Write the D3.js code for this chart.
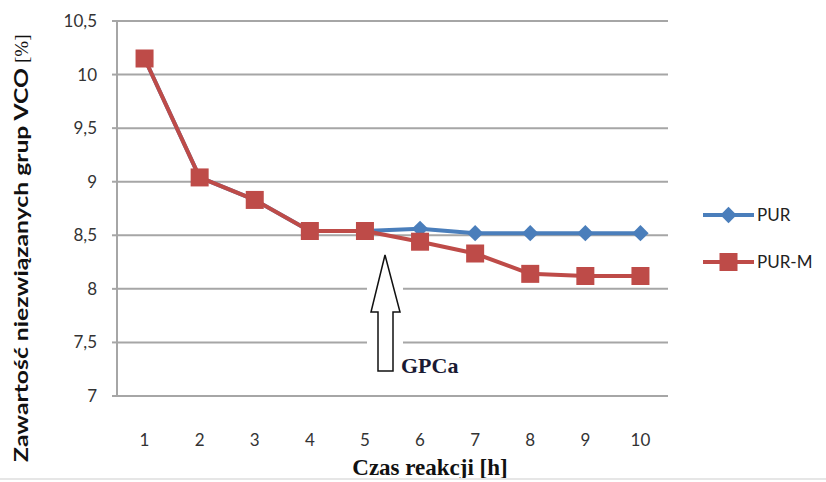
<!DOCTYPE html>
<html>
<head>
<meta charset="utf-8">
<script src="https://cdn.jsdelivr.net/npm/d3@7"></script>
<style>
  body { margin: 0; background: #fff; }
  svg { display: block; }
</style>
</head>
<body>
<svg id="chart" width="826" height="482"></svg>
<script>
const hours = [1, 2, 3, 4, 5, 6, 7, 8, 9, 10]
const pur = [10.15, 9.04, 8.83, 8.54, 8.54, 8.56, 8.52, 8.52, 8.52, 8.52]
const purM = [10.15, 9.04, 8.83, 8.54, 8.54, 8.44, 8.33, 8.14, 8.12, 8.12]
const yTicks = [7, 7.5, 8, 8.5, 9, 9.5, 10, 10.5]
const seriesNames = ["PUR", "PUR-M"]

const M = ({ LEFT: 117, RIGHT: 668, TOP: 21, BOTTOM: 396 })
const BLUE = "#4a7ebb", RED = "#be4b48", GRID = "#a6a6a6"

const svg = d3.select("#chart")

const x = d3.scaleBand().domain(hours).range([M.LEFT, M.RIGHT])
const y = d3.scaleLinear().domain([7, 10.5]).range([M.BOTTOM, M.TOP])
const cx = d => x(d) + x.bandwidth() / 2

// gridlines, with a gap where the arrow sits
const gap = [367, 403]
const grid = svg.append("g")
yTicks.filter(t => t > 7).forEach(t => {
    const yy = y(t)
    if (yy > 250) {
        grid.append("line").attr("x1", M.LEFT).attr("x2", gap[0]).attr("y1", yy).attr("y2", yy)
        grid.append("line").attr("x1", gap[1]).attr("x2", M.RIGHT).attr("y1", yy).attr("y2", yy)
    } else {
        grid.append("line").attr("x1", M.LEFT).attr("x2", M.RIGHT).attr("y1", yy).attr("y2", yy)
    }
})
grid.selectAll("line").attr("stroke", GRID).attr("stroke-width", 2)

// axes
svg.append("path")
    .attr("d", `M${M.LEFT},${M.TOP}V${M.BOTTOM}H${M.RIGHT}`)
    .attr("fill", "none").attr("stroke", GRID).attr("stroke-width", 2)

svg.append("g").selectAll("line").data(yTicks).join("line")
    .attr("x1", M.LEFT - 5).attr("x2", M.LEFT)
    .attr("y1", d => y(d)).attr("y2", d => y(d))
    .attr("stroke", GRID).attr("stroke-width", 2)

svg.append("g").selectAll("text").data(yTicks).join("text")
    .attr("x", 97).attr("y", d => y(d) + 6)
    .attr("text-anchor", "end")
    .attr("font-family", "Lato, 'Open Sans', sans-serif")
    .attr("font-size", 17).attr("fill", "#333")
    .text(d => String(d).replace(".", ","))

svg.append("g").selectAll("text").data(hours).join("text")
    .attr("x", d => cx(d)).attr("y", 446)
    .attr("text-anchor", "middle")
    .attr("font-family", "Lato, 'Open Sans', sans-serif")
    .attr("font-size", 17).attr("fill", "#333")
    .text(d => d)

// axis titles
svg.append("text")
    .attr("x", 430).attr("y", 475)
    .attr("text-anchor", "middle")
    .attr("font-family", "'Liberation Serif', 'Times New Roman', serif")
    .attr("font-weight", "bold").attr("font-size", 23).attr("fill", "#111")
    .text("Czas reakcji [h]")

svg.append("text")
    .attr("transform", "translate(28,462) rotate(-90)")
    .attr("font-family", "Lato, 'Open Sans', sans-serif")
    .attr("font-weight", "bold").attr("font-size", 19).attr("fill", "#111")
    .attr("textLength", 394).attr("lengthAdjust", "spacingAndGlyphs")
    .text("Zawartość niezwiązanych  grup VCO")
svg.append("text")
    .attr("transform", "translate(28,63) rotate(-90)")
    .attr("font-family", "'Liberation Serif', serif")
    .attr("font-size", 19).attr("fill", "#111")
    .text("[%]")

// series
const line = d3.line().x((d, i) => cx(hours[i])).y(d => y(d))

svg.append("path").datum(pur)
    .attr("d", line).attr("fill", "none")
    .attr("stroke", BLUE).attr("stroke-width", 4).attr("stroke-linejoin", "round")
svg.append("g").selectAll("path").data(pur).join("path")
    .attr("transform", (d, i) => `translate(${cx(hours[i])},${y(d)})`)
    .attr("d", d3.symbol(d3.symbolDiamond2, 170))
    .attr("fill", BLUE)

svg.append("path").datum(purM)
    .attr("d", line).attr("fill", "none")
    .attr("stroke", RED).attr("stroke-width", 4).attr("stroke-linejoin", "round")
svg.append("g").selectAll("rect").data(purM).join("rect")
    .attr("x", (d, i) => cx(hours[i]) - 9).attr("y", d => y(d) - 9)
    .attr("width", 18).attr("height", 18)
    .attr("fill", RED)

// arrow annotation
svg.append("path")
    .attr("d", "M385,255 L400,312 L393,312 L393,371 L378,371 L378,312 L371,312 Z")
    .attr("fill", "#fff").attr("stroke", "#111").attr("stroke-width", 1.5)
svg.append("text")
    .attr("x", 401).attr("y", 373)
    .attr("font-family", "'Liberation Serif', 'Times New Roman', serif")
    .attr("font-weight", "bold").attr("font-size", 22).attr("fill", "#1a1a33")
    .text("GPCa")

// legend
const legend = svg.append("g").selectAll("g").data(seriesNames).join("g")
    .attr("transform", (d, i) => `translate(703,${215 + i * 47})`)
legend.append("line").attr("x1", 0).attr("x2", 51)
    .attr("stroke", (d, i) => i ? RED : BLUE).attr("stroke-width", 4)
legend.filter((d, i) => i === 0).append("path")
    .attr("transform", "translate(25.5,0)")
    .attr("d", d3.symbol(d3.symbolDiamond2, 170)).attr("fill", BLUE)
legend.filter((d, i) => i === 1).append("rect")
    .attr("x", 16.5).attr("y", -9).attr("width", 18).attr("height", 18).attr("fill", RED)
legend.append("text")
    .attr("x", 54).attr("y", 6)
    .attr("font-family", "Lato, 'Open Sans', sans-serif")
    .attr("font-size", 17).attr("fill", "#222")
    .text(d => d)

// faint frame line at the bottom
svg.append("line").attr("x1", 0).attr("x2", 826).attr("y1", 479).attr("y2", 479)
    .attr("stroke", "#e6e6e6").attr("stroke-width", 2)
</script>
</body>
</html>
